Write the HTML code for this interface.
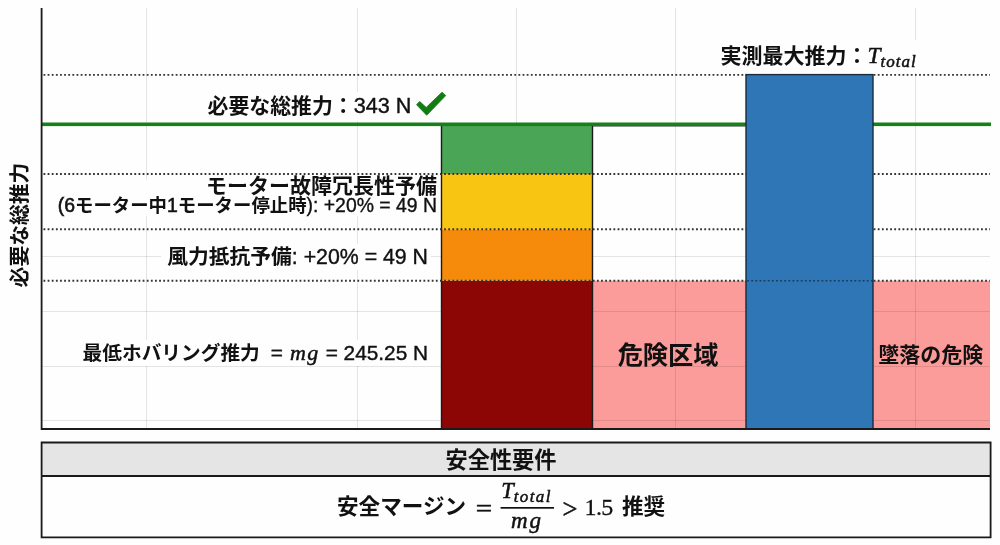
<!DOCTYPE html>
<html lang="ja">
<head>
<meta charset="utf-8">
<title>必要な総推力</title>
<style>
html,body{margin:0;padding:0;background:#fefefe;}
body{width:1000px;height:545px;overflow:hidden;}
svg{display:block;}
text{font-family:"Liberation Sans","Noto Sans CJK JP",sans-serif;fill:#111;}
.b{font-weight:700;}
.m{font-weight:700;}
.l{stroke:#111;stroke-width:0.4px;}
.l2{font-size:19.4px;stroke:#111;stroke-width:0.6px;}
.math{font-family:"Liberation Serif","Noto Serif CJK JP",serif;font-style:italic;font-weight:400;stroke:#111;stroke-width:0.5px;}
.num{font-family:"Liberation Serif","Noto Serif CJK JP",serif;font-weight:400;stroke:#111;stroke-width:0.3px;}
.sym{stroke-width:0.55px;}
</style>
</head>
<body>
<svg width="1000" height="545" viewBox="0 0 1000 545">
<rect x="0" y="0" width="1000" height="545" fill="#fefefe"/>

<!-- pink danger zone -->
<rect x="592" y="280.7" width="398" height="148.3" fill="#fb9c9b"/>

<!-- grid -->
<g stroke="#000" stroke-opacity="0.10" stroke-width="1" fill="none">
<path d="M146.5 8V429M357.5 8V429M516.5 8V429M675.5 8V429M915.5 8V429"/>
<path d="M42 256.5H990M42 311.5H990M42 366.5H990M42 420.5H990"/>
</g>

<!-- stacked bar -->
<rect x="441.5" y="280.7" width="151" height="148.3" fill="#8c0606"/>
<rect x="441.5" y="229.3" width="151" height="51.4" fill="#f68a0a"/>
<rect x="441.5" y="174" width="151" height="55.3" fill="#f8c612"/>
<rect x="441.5" y="124" width="151" height="50" fill="#4ba556"/>
<path d="M441.5 124V429M592.5 124V429" stroke="#1a1a1a" stroke-width="1.4" fill="none"/>

<!-- dotted reference lines -->
<g stroke="#333" stroke-width="1.9" stroke-dasharray="1.8 2.33" fill="none">
<path d="M43.5 74.9H990M43.5 174H990M43.5 229.3H990M43.5 280.7H990"/>
</g>

<!-- required thrust line -->
<rect x="41" y="122.5" width="950" height="3.6" fill="#17801a"/>

<!-- blue bar -->
<rect x="746" y="74.6" width="127" height="354.4" fill="#2e76b5" stroke="#1b2a3a" stroke-width="1.4"/>
<path d="M747.1 280.7H872.5" stroke="#14283c" stroke-opacity="0.75" stroke-width="1.5" stroke-dasharray="1.8 2.33" fill="none"/>
<path d="M593 126.5H745.5" stroke="#222" stroke-opacity="0.55" stroke-width="0.8" fill="none"/>

<!-- label backgrounds -->
<g fill="#fefefe">
<rect x="204" y="92" width="246" height="29"/>
<rect x="56" y="179.5" width="383" height="37"/>
<rect x="161" y="244" width="270" height="26"/>
<rect x="79" y="340" width="352" height="26"/>
<rect x="717" y="40" width="201" height="33"/>
</g>

<!-- labels -->
<text x="207.5" y="113" font-size="20.9"><tspan class="b">必要な総推力：</tspan><tspan class="l" font-size="21.6">343 N</tspan></text>
<path d="M416.6 104.7L419.7 101.5L426.2 107.5L442 92.3L445.7 95.6L426.7 115.2Z" fill="#127c12" stroke="#127c12" stroke-width="0.9" stroke-linejoin="round"/>

<text x="437" y="193" font-size="21" text-anchor="end" class="b">モーター故障冗長性予備</text>
<text x="437" y="212" font-size="18.4" text-anchor="end"><tspan class="l2">(6</tspan><tspan class="m">モーター中</tspan><tspan class="l2">1</tspan><tspan class="m">モーター停止時</tspan><tspan class="l2" style="stroke-width:0.35px">): +20% = 49 N</tspan></text>
<text x="428" y="263.8" font-size="20.75" text-anchor="end"><tspan class="b">風力抵抗予備</tspan><tspan class="l" font-size="21.3">: +20% = 49 N</tspan></text>
<text x="259.8" y="359.8" font-size="19.7" text-anchor="end" class="b">最低ホバリング推力</text>
<text x="428" y="359.8" text-anchor="end"><tspan class="l" font-size="20.8">= </tspan><tspan class="math" font-size="22" letter-spacing="1.2" dx="1.5">mg</tspan><tspan class="l" font-size="20.8" dx="0.5"> = 245.25 N</tspan></text>

<text x="720.5" y="63" font-size="21"><tspan class="b">実測最大推力：</tspan><tspan class="math" font-size="23.4">T</tspan><tspan class="math" font-size="17" dy="3.8" letter-spacing="1">total</tspan></text>

<text x="668" y="363.8" font-size="25.2" text-anchor="middle" class="b">危険区域</text>
<text x="930.7" y="361.6" font-size="21" text-anchor="middle" class="b">墜落の危険</text>

<!-- y axis label -->
<text transform="translate(27,225) rotate(-90)" font-size="20.8" text-anchor="middle" class="b">必要な総推力</text>

<!-- axes -->
<path d="M41.6 8V430M40.7 429H990" stroke="#1a1a1a" stroke-width="1.8" fill="none"/>

<!-- table -->
<rect x="41.6" y="442.5" width="949" height="33.5" fill="#e5e5e5"/>
<rect x="41.6" y="476" width="949" height="61.5" fill="#fefefe"/>
<path d="M41.6 442.5H990.6V537.4H41.6ZM41.6 476H990.6" stroke="#1a1a1a" stroke-width="1.8" fill="none"/>
<text x="501" y="468" font-size="22.2" text-anchor="middle" class="b">安全性要件</text>

<text x="337" y="514" font-size="21.6" class="b">安全マージン</text>
<text transform="translate(475.8,517.2) scale(1.14,1)" font-size="25.5" class="num sym">=</text>
<text x="501.2" y="497.8"><tspan class="math" font-size="22.5">T</tspan><tspan class="math" font-size="17" dy="4.3" letter-spacing="1.4">total</tspan></text>
<rect x="500.6" y="507" width="53.4" height="1.7" fill="#111"/>
<text x="511" y="527.9" font-size="23" letter-spacing="2" class="math">mg</text>
<text x="562.5" y="517.6" font-size="26.5" class="num sym">&gt;</text>
<text x="584.6" y="514.5" font-size="24" letter-spacing="-0.7" class="num">1.5</text>
<text x="622" y="514" font-size="21.6" class="b">推奨</text>
</svg>
</body>
</html>
